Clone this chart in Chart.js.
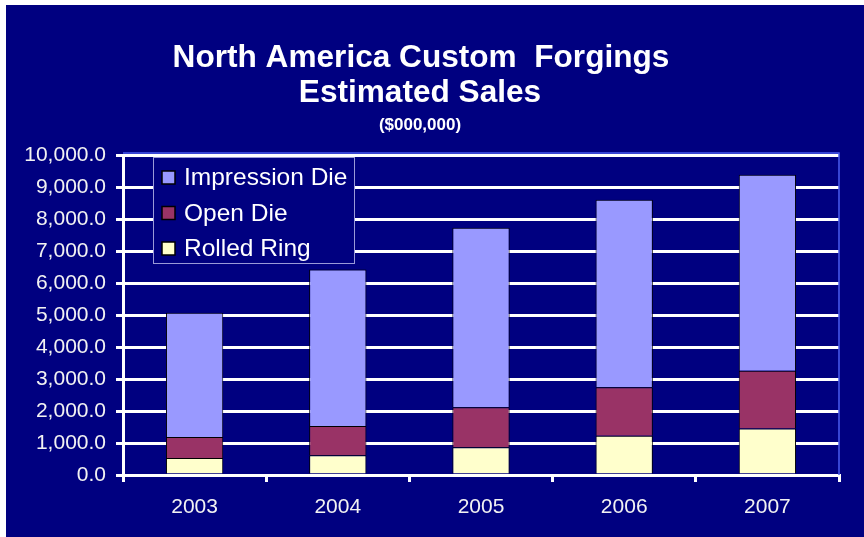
<!DOCTYPE html>
<html>
<head>
<meta charset="utf-8">
<script src="https://cdn.jsdelivr.net/npm/chart.js@4/dist/chart.umd.min.js"></script>
<style>
  html, body { margin: 0; padding: 0; background: #ffffff; }
  #wrap { position: absolute; left: 6px; top: 5px; width: 858px; height: 532px; background: #000080; }
  canvas { display: block; }
</style>
</head>
<body>
<div id="wrap"><canvas id="sales" width="858" height="532"></canvas></div>
<script>
// Sales by forging type, $000,000
const years = ['2003', '2004', '2005', '2006', '2007'];
const rolledRing = [530, 620, 870, 1230, 1450];
const openDie = [660, 910, 1250, 1510, 1810];
const impressionDie = [3880, 4890, 5610, 5860, 6120];

const titleLines = ['North America Custom  Forgings', 'Estimated Sales'];
const subTitle = '($000,000)';

const navy = '#000080';
const font = '"Liberation Sans", Arial, sans-serif';

// heading text, centred over the plot
const titlePlugin = {
    id: 'heading',
    afterDraw(chart) {
        const ctx = chart.ctx;
        ctx.save();
        ctx.fillStyle = '#ffffff';
        ctx.textAlign = 'center';
        ctx.textBaseline = 'alphabetic';
        ctx.font = 'bold 31.6px ' + font;
        ctx.fillText(titleLines[0], 415, 62);
        ctx.fillText(titleLines[1], 414, 97);
        ctx.font = 'bold 17px ' + font;
        ctx.fillText(subTitle, 414, 125);
        ctx.restore();
    }
};

// blue plot-area frame on top and right
const framePlugin = {
    id: 'frame',
    beforeDatasetsDraw(chart) {
        const a = chart.chartArea;
        const ctx = chart.ctx;
        ctx.save();
        ctx.strokeStyle = '#4a5cf0';
        ctx.lineWidth = 1.5;
        ctx.beginPath();
        ctx.moveTo(a.left, a.top - 2);
        ctx.lineTo(a.right, a.top - 2);
        ctx.lineTo(a.right, a.bottom);
        ctx.stroke();
        ctx.restore();
    }
};

// boxed legend sitting inside the plot
const legendBox = {
    id: 'legendBox',
    afterDraw(chart) {
        const ctx = chart.ctx;
        const x = 147, y = 152, w = 201, h = 106;
        ctx.save();
        ctx.fillStyle = navy;
        ctx.fillRect(x, y, w, h);
        ctx.strokeStyle = '#9a9ad8';
        ctx.lineWidth = 1;
        ctx.strokeRect(x + 0.5, y + 0.5, w, h);
        const items = chart.data.datasets.slice().reverse();
        ctx.font = '24.5px ' + font;
        ctx.textBaseline = 'middle';
        items.forEach((ds, i) => {
            const cy = y + 20.5 + i * 35.5;
            ctx.fillStyle = ds.backgroundColor;
            ctx.fillRect(x + 9, cy - 6.5, 13, 13);
            ctx.strokeStyle = '#000000';
            ctx.lineWidth = 1.5;
            ctx.strokeRect(x + 9, cy - 6.5, 13, 13);
            ctx.fillStyle = '#ffffff';
            ctx.fillText(ds.label, x + 31, cy + 1);
        });
        ctx.restore();
    }
};

const barStyle = {
    borderColor: '#000000',
    borderWidth: 1,
    categoryPercentage: 0.8,
    barPercentage: 0.5
};

new Chart(document.getElementById('sales'), {
    type: 'bar',
    data: {
        labels: years,
        datasets: [
            { label: 'Rolled Ring', data: rolledRing, backgroundColor: '#ffffcc', ...barStyle },
            { label: 'Open Die', data: openDie, backgroundColor: '#993366', ...barStyle },
            { label: 'Impression Die', data: impressionDie, backgroundColor: '#9999ff', ...barStyle }
        ]
    },
    options: {
        responsive: false,
        animation: false,
        layout: { padding: { top: 150, right: 25, left: 0, bottom: 0 } },
        plugins: {
            legend: { display: false },
            title: { display: false },
            tooltip: { enabled: false }
        },
        scales: {
            x: {
                stacked: true,
                afterFit(scale) { scale.height = 62; },
                grid: {
                    offset: true,
                    drawOnChartArea: false,
                    drawTicks: true,
                    tickLength: 7,
                    color: '#ffffff',
                    lineWidth: 3
                },
                border: { display: true, color: '#ffffff', width: 3 },
                ticks: { color: '#f2f2f2', padding: 13, font: { family: font, size: 21 } }
            },
            y: {
                stacked: true,
                min: 0,
                max: 10000,
                afterFit(scale) { scale.width = 117; },
                grid: {
                    color: '#ffffff',
                    lineWidth: 3,
                    drawTicks: true,
                    tickLength: 7
                },
                border: { display: true, color: '#ffffff', width: 3 },
                ticks: {
                    stepSize: 1000,
                    color: '#f2f2f2',
                    padding: 10,
                    font: { family: font, size: 21 },
                    callback: v => v.toLocaleString('en-US', { minimumFractionDigits: 1, maximumFractionDigits: 1 })
                }
            }
        }
    },
    plugins: [framePlugin, titlePlugin, legendBox]
});
</script>
</body>
</html>
